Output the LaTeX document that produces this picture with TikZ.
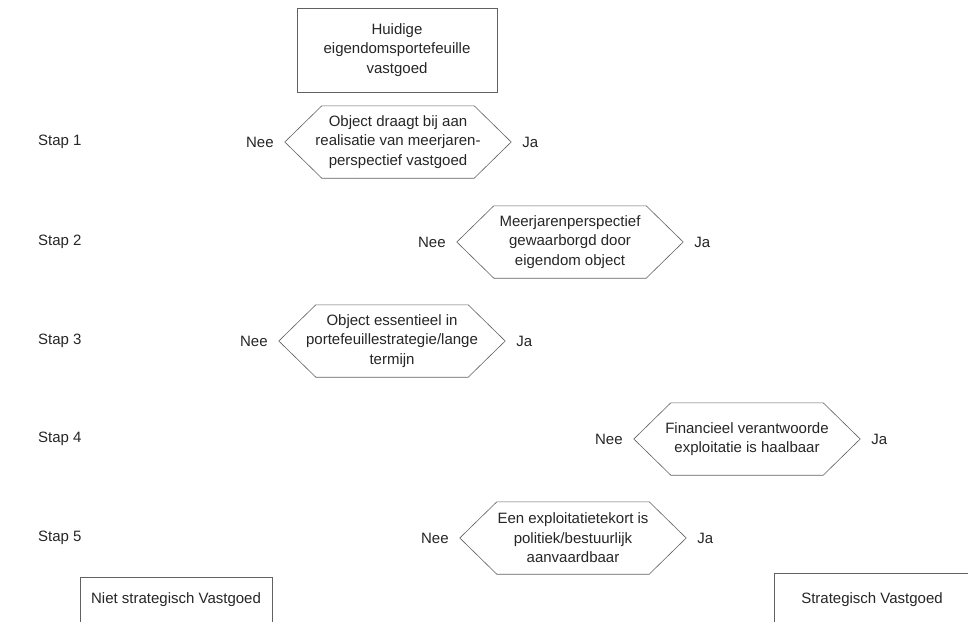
\documentclass[tikz,border=0pt]{standalone}
\usepackage{fontspec}
\setmainfont{Liberation Sans}
\usepackage{tikz}
\usetikzlibrary{positioning}
\definecolor{mline}{rgb}{0.38, 0.38, 0.38}
\definecolor{mtext}{rgb}{0.15, 0.15, 0.15}
\tikzset{
  hexa/.style={minimum width=226pt, minimum height=72pt, inner sep=0pt, align=center, text=mtext},
  kader/.style={draw=mline, line width=0.6pt, inner sep=0pt, align=center, text=mtext},
  antw/.style={inner sep=0pt, text=mtext},
}

\begin{document}
\begin{tikzpicture}[x=1pt, y=-1pt, font=\fontsize{15}{19.5}\selectfont]
      \clip (0, 0) rectangle (968, 621);
      \fill [white] (0, 0) rectangle (968, 621);
      \node [kader, minimum width=200pt, minimum height=84pt] (start) at (397, 50) {Huidige\\eigendomsportefeuille\\vastgoed};
      \node [hexa] (h1) at (398, 142) {Object draagt bij aan\\realisatie van meerjaren-\\perspectief vastgoed};
      \node [hexa] (h2) at (570, 242) {Meerjarenperspectief\\gewaarborgd door\\eigendom object};
      \node [hexa] (h3) at (392, 341) {Object essentieel in\\portefeuillestrategie/lange\\termijn};
      \node [hexa] (h4) at (747, 439) {Financieel verantwoorde\\exploitatie is haalbaar};
      \node [hexa] (h5) at (573, 538) {Een exploitatietekort is\\politiek/bestuurlijk\\aanvaardbaar};
      \coordinate (kant) at (38, 0);
      \foreach \i in {1,...,5} {
        \draw [mline, line width=0.6pt] (h\i.west) -- ([xshift=37pt]h\i.north west) -- ([xshift=-37pt]h\i.north east)
          -- (h\i.east) -- ([xshift=-37pt]h\i.south east) -- ([xshift=37pt]h\i.south west) -- cycle;
        \node [antw, left=11pt of h\i] (nee\i) {Nee};
        \node [antw, right=11pt of h\i] (ja\i) {Ja};
        \node [antw, anchor=west] (stap\i) at (kant |- h\i) {Stap \i};
      }
      \node [kader, minimum width=192pt, minimum height=46pt] (niet) at (176, 600) {Niet strategisch Vastgoed};
      \node [kader, minimum width=196pt, minimum height=54pt] (strat) at (872, 600) {Strategisch Vastgoed};
    \end{tikzpicture}
\end{document}
